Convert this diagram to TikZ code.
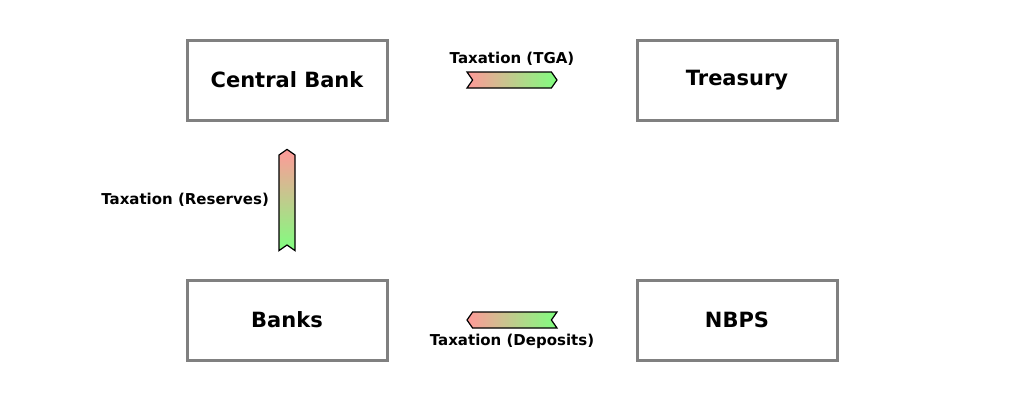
\documentclass[tikz,border=0pt]{standalone}
\usepackage{fontspec}
\setmainfont{DejaVu Sans}
\usetikzlibrary{shapes.symbols}
\tikzset{
  sector/.style={draw=gray, line width=3pt, minimum width=200pt, minimum height=80pt,
    font=\fontsize{21}{24}\selectfont\bfseries},
  flow/.style={signal, draw=black, line width=1.2pt, minimum width=90pt, minimum height=16pt,
    inner sep=0pt, signal pointer angle=110},
  flowlabel/.style={font=\fontsize{15}{18}\selectfont\bfseries}
}
\begin{document}
\begin{tikzpicture}[x=1pt,y=-1pt]
\useasboundingbox (0,0) rectangle (1024,400);
\node[sector] (cb) at (287,80) {Central Bank};
\node[sector] (tr) at (737,80) {Treasury};
\node[sector] (bk) at (287,320) {Banks};
\node[sector] (nb) at (737,320) {NBPS};
\node[flow, signal to=east, signal from=west, left color=red!40, right color=green!50] (tga) at (512,80) {};
\node[flowlabel, above=2pt] (tgalab) at (tga.north) {Taxation (TGA)};
\node[flow, signal to=west, signal from=east, left color=red!40, right color=green!50] (dep) at (512,320) {};
\node[flowlabel, below=2pt] (deplab) at (dep.south) {Taxation (Deposits)};
\node[flow, signal to=north, signal from=south, minimum width=16pt, minimum height=90pt,
  top color=red!40, bottom color=green!50] (res) at (287,200) {};
\node[flowlabel, left=6pt] (reslab) at (res.west) {Taxation (Reserves)};
\end{tikzpicture}
\end{document}
